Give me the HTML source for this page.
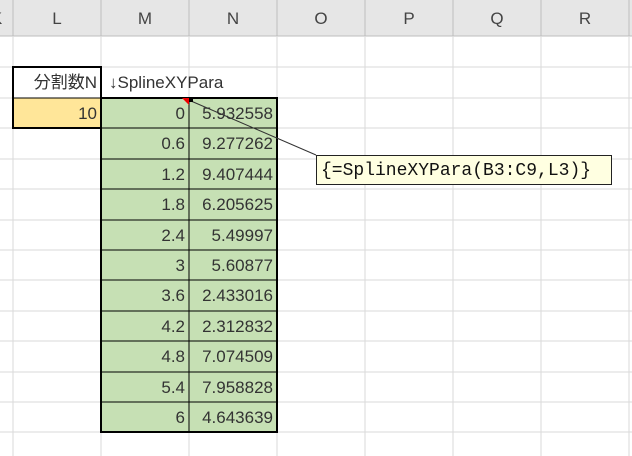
<!DOCTYPE html>
<html><head><meta charset="utf-8">
<style>
body{margin:0;width:632px;height:456px;overflow:hidden;background:#fff;font-family:"Liberation Sans","Noto Sans CJK JP",sans-serif;}
.a{position:absolute;}
.hd{position:absolute;top:0;height:36px;line-height:38px;text-align:center;font-size:17px;color:#444;}
.c{position:absolute;height:30px;line-height:31px;font-size:17px;color:#333;text-align:right;box-sizing:border-box;padding-right:4px;}
</style></head><body>
<svg class="a" style="left:0;top:0" width="632" height="456">
<rect x="0" y="0" width="632" height="36" fill="#e6e6e6"/>
<line x1="0" y1="36" x2="632" y2="36" stroke="#bdbdbd"/>
<g stroke="#bdbdbd">
<line x1="13" y1="0" x2="13" y2="36"/><line x1="101" y1="0" x2="101" y2="36"/><line x1="189" y1="0" x2="189" y2="36"/><line x1="277" y1="0" x2="277" y2="36"/><line x1="365" y1="0" x2="365" y2="36"/><line x1="453" y1="0" x2="453" y2="36"/><line x1="541" y1="0" x2="541" y2="36"/><line x1="629" y1="0" x2="629" y2="36"/>
</g>
<g stroke="#dadada">
<line x1="13" y1="36" x2="13" y2="456"/><line x1="101" y1="36" x2="101" y2="456"/><line x1="189" y1="36" x2="189" y2="456"/><line x1="277" y1="36" x2="277" y2="456"/><line x1="365" y1="36" x2="365" y2="456"/><line x1="453" y1="36" x2="453" y2="456"/><line x1="541" y1="36" x2="541" y2="456"/><line x1="629" y1="36" x2="629" y2="456"/>
<line x1="0" y1="67" x2="632" y2="67"/><line x1="0" y1="98" x2="632" y2="98"/><line x1="0" y1="128" x2="632" y2="128"/><line x1="0" y1="159" x2="632" y2="159"/><line x1="0" y1="189" x2="632" y2="189"/><line x1="0" y1="220" x2="632" y2="220"/><line x1="0" y1="250" x2="632" y2="250"/><line x1="0" y1="280" x2="632" y2="280"/><line x1="0" y1="311" x2="632" y2="311"/><line x1="0" y1="341" x2="632" y2="341"/><line x1="0" y1="372" x2="632" y2="372"/><line x1="0" y1="402" x2="632" y2="402"/><line x1="0" y1="432" x2="632" y2="432"/>
</g>
<rect x="13" y="98" width="88" height="30" fill="#ffe699"/>
<rect x="101" y="98" width="176" height="334" fill="#c6e0b4"/>
<g stroke="#000" stroke-width="1">
<line x1="189" y1="98" x2="189" y2="432"/>
<line x1="101" y1="128" x2="277" y2="128"/><line x1="101" y1="159" x2="277" y2="159"/><line x1="101" y1="189" x2="277" y2="189"/><line x1="101" y1="220" x2="277" y2="220"/><line x1="101" y1="250" x2="277" y2="250"/><line x1="101" y1="280" x2="277" y2="280"/><line x1="101" y1="311" x2="277" y2="311"/><line x1="101" y1="341" x2="277" y2="341"/><line x1="101" y1="372" x2="277" y2="372"/><line x1="101" y1="402" x2="277" y2="402"/>
</g>
<rect x="13" y="67" width="88" height="61" fill="none" stroke="#000" stroke-width="2"/>
<line x1="13" y1="98" x2="101" y2="98" stroke="#000" stroke-width="1"/>
<rect x="101" y="98" width="176" height="334" fill="none" stroke="#000" stroke-width="2"/>
<polygon points="182,98 189,98 189,105" fill="#e00"/>
<line x1="191" y1="101" x2="316" y2="155" stroke="#333"/>
<rect x="189" y="98" width="4" height="4" fill="#000"/>
</svg>
<div class="hd" style="left:-20px;width:33px">K</div>
<div class="hd" style="left:13px;width:88px">L</div>
<div class="hd" style="left:101px;width:88px">M</div>
<div class="hd" style="left:189px;width:88px">N</div>
<div class="hd" style="left:277px;width:88px">O</div>
<div class="hd" style="left:365px;width:88px">P</div>
<div class="hd" style="left:453px;width:88px">Q</div>
<div class="hd" style="left:541px;width:88px">R</div>
<div class="c" style="left:13px;top:67px;width:88px">分割数N</div>
<div class="c" style="left:101px;top:67px;width:200px;text-align:left;padding-left:8px">↓SplineXYPara</div>
<div class="c" style="left:13px;top:98px;width:88px">10</div>
<div id="rows"></div>
<div class="a" style="left:316px;top:155px;width:296px;height:30px;background:#ffffe1;border:1px solid #222;font-family:'Liberation Mono',monospace;font-size:18px;line-height:30px;padding-left:4px;box-sizing:border-box;color:#111">{=SplineXYPara(B3:C9,L3)}</div>
<script>
var xs=["0","0.6","1.2","1.8","2.4","3","3.6","4.2","4.8","5.4","6"];
var ys=["5.932558","9.277262","9.407444","6.205625","5.49997","5.60877","2.433016","2.312832","7.074509","7.958828","4.643639"];
var tops=[98,128,159,189,220,250,280,311,341,372,402];
var r=document.getElementById('rows');
for(var i=0;i<xs.length;i++){
 var a=document.createElement('div');a.className='c';a.style.left='101px';a.style.top=tops[i]+'px';a.style.width='88px';a.textContent=xs[i];
 
 
 r.appendChild(a);
 var b=document.createElement('div');b.className='c';b.style.left='189px';b.style.top=tops[i]+'px';b.style.width='88px';b.textContent=ys[i];
 
 
 r.appendChild(b);
}
</script>
</body></html>
